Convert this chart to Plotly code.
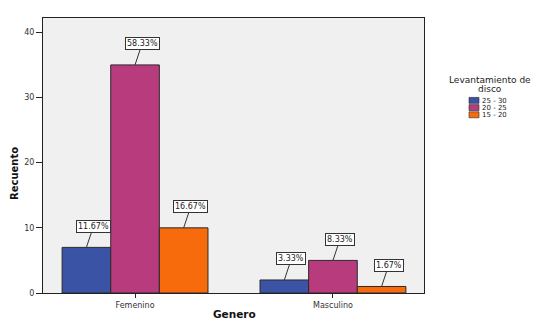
import plotly.graph_objects as go

categories = ["Femenino", "Masculino"]
series_names = ["25 - 30", "20 - 25", "15 - 20"]
series_values = [[7, 2], [35, 5], [10, 1]]
series_labels = [["11.67%", "3.33%"], ["58.33%", "8.33%"], ["16.67%", "1.67%"]]
colors = ["#3B53A4", "#B83C7D", "#F86B0C"]
y_ticks = [0, 10, 20, 30, 40]
legend_title_lines = ["Levantamiento de", "disco"]
x_title = "Genero"
y_title = "Recuento"

FONT = "DejaVu Sans, Liberation Sans, Arial, sans-serif"
W, H = 546, 329
ML, MR, MT, MB = 43, 122, 18, 36
PW, PH = W - ML - MR, H - MT - MB


def px(xp):
    return (xp - ML) / PW


def py(yp):
    return (H - MB - yp) / PH


fig = go.Figure()
for name, vals, col in zip(series_names, series_values, colors):
    fig.add_trace(go.Bar(
        x=categories, y=vals, name=name, showlegend=False,
        marker=dict(color=col, line=dict(color="#2a2a2a", width=1)),
    ))

# Value labels with boxes and leader lines
ngroups = len(series_names)
bargap = 0.263
group_w = 1 - bargap
bw = group_w / ngroups
for si, (vals, labs) in enumerate(zip(series_values, series_labels)):
    for ci, (v, lab) in enumerate(zip(vals, labs)):
        xc = ci - group_w / 2 + bw * (si + 0.5)
        fig.add_annotation(
            x=xc, y=v, xref="x", yref="y",
            text=lab, showarrow=True, arrowhead=0, arrowwidth=1,
            arrowcolor="#333333", ax=7, ay=-21, standoff=0,
            bgcolor="white", bordercolor="#333333", borderwidth=1, borderpad=1,
            font=dict(family=FONT, size=8, color="#222222"),
        )

# Manual legend
for i, line in enumerate(legend_title_lines):
    fig.add_annotation(
        x=px(490), y=py(79.5 + 9 * i), xref="paper", yref="paper", showarrow=False,
        text=line, xanchor="center", yanchor="middle", align="center",
        height=8, borderpad=0,
        font=dict(family=FONT, size=9, color="#222222"),
    )
for i, (name, col) in enumerate(zip(series_names, colors)):
    cy = 100.4 + 7.2 * i
    fig.add_shape(
        type="rect", xref="paper", yref="paper",
        x0=px(469), x1=px(479), y0=py(cy - 3), y1=py(cy + 3),
        fillcolor=col, line=dict(color="#2a2a2a", width=0.6),
    )
    fig.add_annotation(
        x=px(480.5), y=py(cy), xref="paper", yref="paper", showarrow=False,
        text=name, xanchor="left", yanchor="middle",
        height=7, borderpad=0,
        font=dict(family=FONT, size=7, color="#222222"),
    )

# Axis titles
fig.add_annotation(
    x=px(234), y=py(314), xref="paper", yref="paper", showarrow=False,
    text="<b>" + x_title + "</b>", xanchor="center", yanchor="middle",
    font=dict(family=FONT, size=10.5, color="#111111"),
)
fig.add_annotation(
    x=px(14), y=py(174), xref="paper", yref="paper", showarrow=False,
    text="<b>" + y_title + "</b>", textangle=-90, xanchor="center", yanchor="middle",
    font=dict(family=FONT, size=10, color="#111111"),
)

fig.update_layout(
    width=W, height=H,
    margin=dict(l=ML, r=MR, t=MT, b=MB, autoexpand=False),
    paper_bgcolor="white", plot_bgcolor="#F0F0F0",
    barmode="group", bargap=bargap, bargroupgap=0,
    font=dict(family=FONT, size=8, color="#333333"),
    showlegend=False,
    xaxis=dict(
        range=[-0.465, 1.46], showgrid=False, ticks="outside", ticklen=4,
        tickcolor="#222222", linecolor="#222222", linewidth=1, mirror=True,
        tickfont=dict(family=FONT, size=8, color="#333333"), automargin=False,
    ),
    yaxis=dict(
        range=[0, 42.2], tickvals=y_ticks, showgrid=False, zeroline=False,
        ticks="outside", ticklen=6, tickcolor="#222222",
        linecolor="#222222", linewidth=1, mirror=True,
        tickfont=dict(family=FONT, size=8, color="#333333"), automargin=False,
    ),
)

fig.write_html("out.html")
